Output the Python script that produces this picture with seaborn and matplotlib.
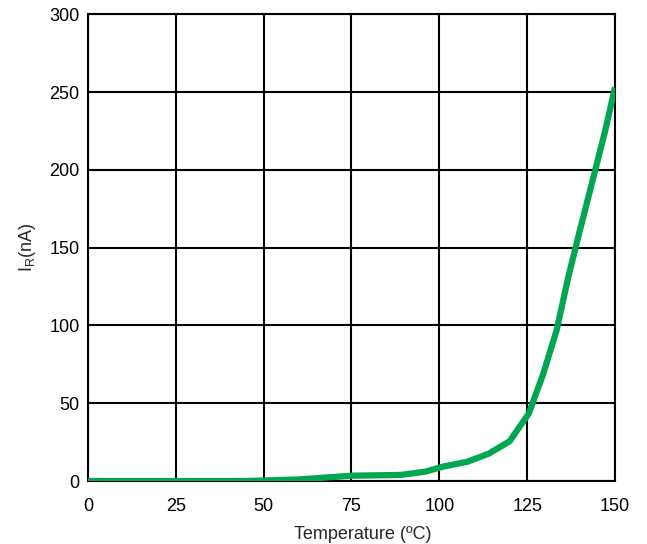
import matplotlib
matplotlib.use('Agg')
import matplotlib.pyplot as plt
import pandas as pd
import seaborn as sns

# Reverse current vs temperature
temperature = [0, 25, 45, 60, 75, 89, 96, 101, 108, 114, 120, 125.5,
               129.6, 133.4, 136.7, 140, 144.4, 147.2, 150]
current_na = [0, 0, 0, 1, 3.4, 3.9, 6, 9.2, 12.4, 17.5, 25.5, 43.5,
              69, 97, 131, 161, 200, 225, 253]
x_ticks = [0, 25, 50, 75, 100, 125, 150]
y_ticks = [0, 50, 100, 150, 200, 250, 300]

df = pd.DataFrame({'temp': temperature, 'ir': current_na})

sns.set_style('white')
plt.rcParams['font.family'] = ['Liberation Sans', 'DejaVu Sans']

fig = plt.figure(figsize=(6.47, 5.44), dpi=100)
ax = fig.add_axes([0.136, 0.1158, 0.8145, 0.858])

sns.lineplot(data=df, x='temp', y='ir', ax=ax, color='#00A651',
             linewidth=4.5, solid_capstyle='butt', solid_joinstyle='round',
             zorder=3)

ax.set_xlim(0, 150)
ax.set_ylim(0, 300)
ax.set_xticks(x_ticks)
ax.set_yticks(y_ticks)
ax.grid(True, color='black', linewidth=1.5)
ax.set_axisbelow(True)
for s in ax.spines.values():
    s.set_color('black')
    s.set_linewidth(1.5)
ax.tick_params(axis='both', length=0, labelsize=13, colors='black')
ax.tick_params(axis='x', pad=12)
ax.tick_params(axis='y', pad=6)

ax.set_xlabel('Temperature (ºC)', fontsize=13)
ax.xaxis.set_label_coords(0.522, -0.097)
ax.set_ylabel(r'I$_\mathregular{R}$(nA)', fontsize=13, labelpad=8)

fig.savefig('out.png', dpi=100)
plt.close(fig)
